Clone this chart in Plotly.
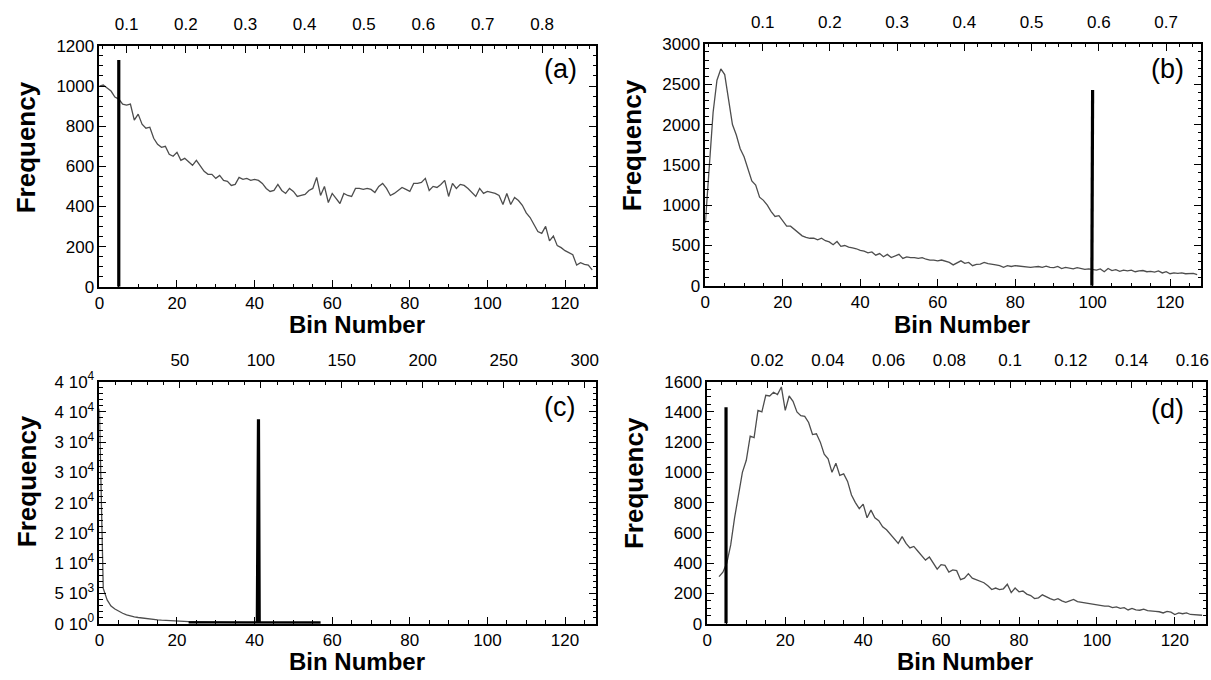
import plotly.graph_objects as go

# ---------------- data ----------------
bins_a = list(range(128))
freq_a = [1000, 1005, 990, 975, 945, 935, 910, 905, 910, 830,
          860, 810, 790, 795, 740, 710, 695, 700, 660, 650,
          670, 630, 640, 620, 605, 630, 600, 575, 560, 560,
          540, 555, 530, 525, 505, 510, 545, 535, 540, 530,
          535, 530, 515, 490, 475, 480, 510, 480, 465, 490,
          475, 450, 455, 460, 480, 490, 545, 455, 500, 420,
          465, 440, 415, 465, 455, 450, 490, 490, 485, 490,
          485, 470, 500, 515, 490, 455, 465, 480, 495, 485,
          475, 515, 515, 520, 540, 480, 500, 495, 510, 530,
          450, 515, 490, 510, 505, 490, 470, 450, 490, 465,
          475, 470, 465, 455, 410, 465, 410, 445, 430, 406,
          368, 345, 310, 275, 266, 301, 229, 253, 205, 195,
          180, 170, 160, 108, 120, 112, 108, 84]
spike_a_x = [5, 5]
spike_a_y = [0, 1130]

bins_b = list(range(128))
freq_b = [780, 1450, 2150, 2550, 2690, 2620, 2300, 2000, 1870, 1700,
          1600, 1450, 1300, 1250, 1100, 1060, 1000, 920, 860, 870,
          800, 740, 740, 700, 660, 620, 600, 590, 590, 570,
          590, 560, 545, 510, 550, 490, 500, 480, 470, 460,
          440, 430, 410, 420, 380, 400, 360, 390, 350, 370,
          390, 340, 360, 350, 350, 340, 350, 330, 320, 320,
          310, 320, 300, 290, 260, 290, 310, 280, 290, 250,
          265, 270, 290, 275, 270, 260, 250, 230, 250, 240,
          250, 245, 240, 230, 230, 235, 240, 230, 245, 230,
          225, 240, 215, 230, 220, 210, 225, 215, 205, 210,
          200, 195, 210, 175, 215, 190, 200, 180, 195, 185,
          195, 175, 185, 190, 175, 180, 170, 185, 160, 175,
          150, 160, 155, 160, 150, 150, 155, 140]
spike_b_x = [99.8, 99.9, 100]
spike_b_y = [0, 1600, 2430]

bins_c = list(range(58))
freq_c = [35500, 5800, 3900, 2900, 2400, 2000, 1700, 1450, 1250, 1100,
          1000, 900, 820, 740, 670, 610, 560, 510, 470, 430,
          400, 370, 345, 320, 300, 280, 260, 245, 230, 215,
          200, 190, 180, 170, 160, 150, 145, 140, 135, 130,
          125, 120, 115, 110, 105, 100, 95, 90, 85, 80,
          75, 70, 65, 60, 55, 50, 45, 40]
spike_c_x = [23, 40.7, 41.0, 41.2, 57]
spike_c_y = [120, 120, 33800, 120, 120]

bins_d = list(range(3, 128))
freq_d = [310, 340, 400, 520, 700, 850, 1000,
          1080, 1240, 1230, 1410, 1400, 1510, 1505, 1530, 1515, 1565,
          1410, 1505, 1470, 1400, 1375, 1370, 1330, 1250, 1255, 1200,
          1120, 1090, 1000, 1060, 980, 990, 940, 850, 800, 760,
          790, 700, 750, 700, 680, 640, 620, 590, 560, 530,
          575, 530, 500, 510, 480, 450, 420, 440, 400, 360,
          390, 385, 340, 355, 350, 290, 300, 330, 300, 290,
          285, 270, 250, 225, 235, 225, 230, 260, 205, 235,
          210, 215, 195, 185, 165, 170, 190, 175, 165, 155,
          165, 150, 140, 150, 160, 145, 140, 135, 130, 130,
          125, 120, 115, 115, 105, 110, 100, 105, 90, 100,
          90, 88, 95, 85, 80, 80, 78, 70, 80, 75,
          60, 70, 65, 70, 60, 58, 60, 55]
spike_d_x = [4.8, 4.8]
spike_d_y = [0, 1430]

# top axis tick labels
top_a_vals = [0.1, 0.2, 0.3, 0.4, 0.5, 0.6, 0.7, 0.8]
top_a_text = ["0.1", "0.2", "0.3", "0.4", "0.5", "0.6", "0.7", "0.8"]
top_b_vals = [0.1, 0.2, 0.3, 0.4, 0.5, 0.6, 0.7]
top_b_text = ["0.1", "0.2", "0.3", "0.4", "0.5", "0.6", "0.7"]
top_c_vals = [50, 100, 150, 200, 250, 300]
top_c_text = ["50", "100", "150", "200", "250", "300"]
top_d_vals = [0.02, 0.04, 0.06, 0.08, 0.1, 0.12, 0.14, 0.16]
top_d_text = ["0.02", "0.04", "0.06", "0.08", "0.1", "0.12", "0.14", "0.16"]

# left tick labels of panel (c)
yc_vals = [0, 5000, 10000, 15000, 20000, 25000, 30000, 35000, 40000]
yc_text = ["0 10<sup>0</sup>", "5 10<sup>3</sup>", "1 10<sup>4</sup>", "2 10<sup>4</sup>",
           "2 10<sup>4</sup>", "3 10<sup>4</sup>", "3 10<sup>4</sup>", "4 10<sup>4</sup>",
           "4 10<sup>4</sup>"]

panel_labels = ["(a)", "(b)", "(c)", "(d)"]

# ---------------- figure ----------------
W, H = 1211, 680
FONT = "Liberation Sans, Arial, Helvetica, sans-serif"
GREY = "#4d4d4d"

fig = go.Figure()
series = [
    (bins_a, freq_a, spike_a_x, spike_a_y, "x", "y", top_a_vals, "x5"),
    (bins_b, freq_b, spike_b_x, spike_b_y, "x2", "y2", top_b_vals, "x6"),
    (bins_c, freq_c, spike_c_x, spike_c_y, "x3", "y3", top_c_vals, "x7"),
    (bins_d, freq_d, spike_d_x, spike_d_y, "x4", "y4", top_d_vals, "x8"),
]
for bx, fy, sx, sy, xa, ya, tv, xt in series:
    fig.add_trace(go.Scatter(x=bx, y=fy, mode="lines", xaxis=xa, yaxis=ya,
                             line=dict(color=GREY, width=1.3), showlegend=False,
                             hoverinfo="skip"))
    fig.add_trace(go.Scatter(x=sx, y=sy, mode="lines", xaxis=xa, yaxis=ya,
                             line=dict(color="black", width=3.2), showlegend=False,
                             hoverinfo="skip"))
    # invisible carrier so that the secondary (top) axis is drawn
    fig.add_trace(go.Scatter(x=tv, y=[0] * len(tv), mode="markers", xaxis=xt, yaxis=ya,
                             marker=dict(size=1, opacity=0), showlegend=False,
                             hoverinfo="skip"))

def px_x(p):
    return p / W

def px_y(p):
    return 1 - p / H

dom = {
    "a": ([px_x(95), px_x(595)], [px_y(284), px_y(35)]),
    "b": ([px_x(705), px_x(1204)], [px_y(283), px_y(33)]),
    "c": ([px_x(95), px_x(595)], [px_y(632), px_y(382)]),
    "d": ([px_x(707), px_x(1209)], [px_y(632), px_y(382)]),
}

tickfont = dict(family=FONT, size=17, color="black")
common = dict(showline=True, linecolor="black", linewidth=1.5, ticks="inside",
              ticklen=7, tickwidth=1.2, tickcolor="black", showgrid=False,
              zeroline=False, tickfont=tickfont)

def bottom(domain, anchor):
    return dict(domain=domain, anchor=anchor, range=[0, 128], dtick=20, tick0=0,
                minor=dict(ticks="inside", ticklen=3.5, dtick=5, tick0=0,
                           tickcolor="black", tickwidth=1, showgrid=False),
                **common)

def left(domain, anchor, rng, dtick, mdtick, **kw):
    d = dict(domain=domain, anchor=anchor, range=rng, mirror="ticks",
             minor=dict(ticks="inside", ticklen=3.5, dtick=mdtick, tick0=0,
                        tickcolor="black", tickwidth=1, showgrid=False),
             **common)
    if dtick is not None:
        d["dtick"] = dtick
        d["tick0"] = 0
    d.update(kw)
    return d

def top(over, anchor, rng, vals, text, mdtick):
    return dict(overlaying=over, side="top", anchor=anchor, range=rng,
                tickmode="array", tickvals=vals, ticktext=text,
                ticklabelstandoff=7,
                minor=dict(ticks="inside", ticklen=3.5, dtick=mdtick, tick0=0,
                           tickcolor="black", tickwidth=1, showgrid=False),
                **common)

fig.update_layout(
    width=W, height=H, margin=dict(l=0, r=0, t=0, b=0),
    paper_bgcolor="white", plot_bgcolor="white",
    font=dict(family=FONT, color="black"),
    xaxis=bottom(dom["a"][0], "y"),
    xaxis2=bottom(dom["b"][0], "y2"),
    xaxis3=bottom(dom["c"][0], "y3"),
    xaxis4=bottom(dom["d"][0], "y4"),
    yaxis=left(dom["a"][1], "x", [0, 1200], 200, 50),
    yaxis2=left(dom["b"][1], "x2", [0, 3000], 500, 100),
    yaxis3=left(dom["c"][1], "x3", [0, 40000], None, 1000,
                tickmode="array", tickvals=yc_vals, ticktext=yc_text),
    yaxis4=left(dom["d"][1], "x4", [0, 1600], 200, 50),
    xaxis5=top("x", "y", [0.0542, 0.891], top_a_vals, top_a_text, 0.02),
    xaxis6=top("x2", "y2", [0.0147, 0.752], top_b_vals, top_b_text, 0.02),
    xaxis7=top("x3", "y3", [0.3, 307], top_c_vals, top_c_text, 10),
    xaxis8=top("x4", "y4", [0.0003, 0.1645], top_d_vals, top_d_text, 0.005),
)

ann = []
# y titles
for xp, yp in [(22, 140), (631, 138), (22, 485), (633, 487)]:
    ann.append(dict(text="<b>Frequency</b>", x=px_x(xp), y=px_y(yp), xref="paper",
                    yref="paper", textangle=-90, showarrow=False,
                    font=dict(family=FONT, size=26, color="black"),
                    xanchor="center", yanchor="middle"))
# x titles
for xp, yp in [(354, 323), (963, 323), (354, 671), (966, 671)]:
    ann.append(dict(text="<b>Bin Number</b>", x=px_x(xp), y=px_y(yp), xref="paper",
                    yref="paper", showarrow=False,
                    font=dict(family=FONT, size=24, color="black"),
                    xanchor="center", yanchor="middle"))
# panel labels
for lab, xp, yp in zip(panel_labels, [559, 1170, 558, 1170], [59, 59, 408, 410]):
    ann.append(dict(text=lab, x=px_x(xp), y=px_y(yp), xref="paper", yref="paper",
                    showarrow=False, xanchor="center", yanchor="middle",
                    font=dict(family=FONT, size=27, color="black")))
fig.update_layout(annotations=ann)

fig.write_html("out.html", config={"displayModeBar": False},
               post_script="document.body.style.margin='0';")
